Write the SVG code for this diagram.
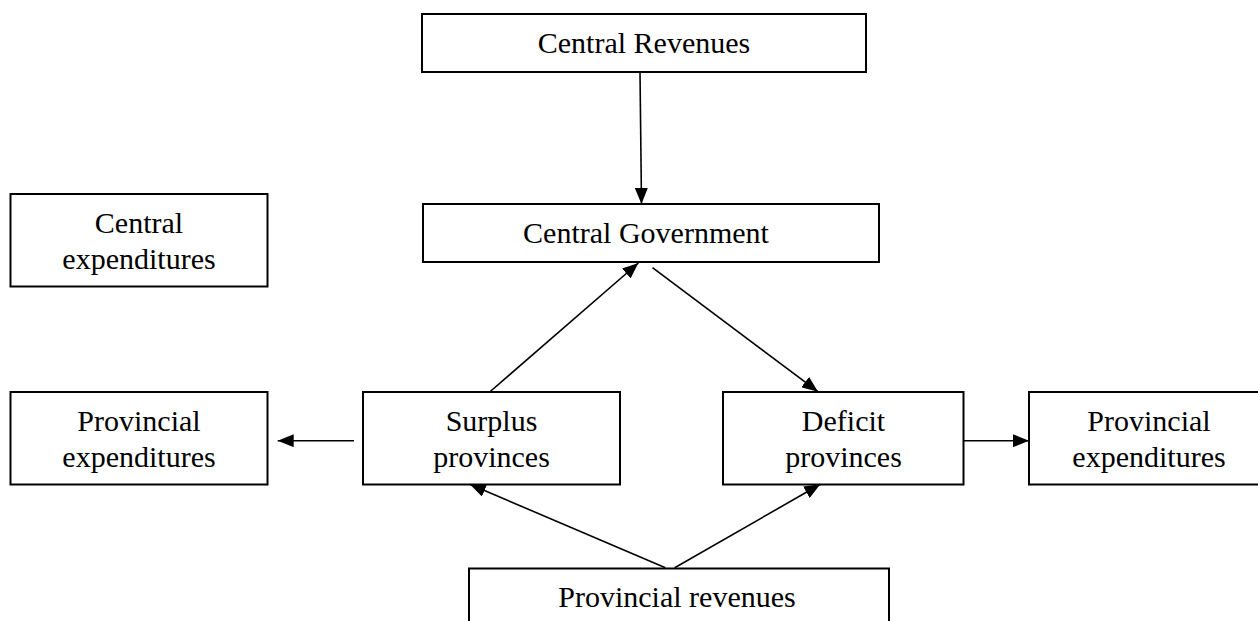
<svg xmlns="http://www.w3.org/2000/svg" width="1258" height="621" viewBox="0 0 1258 621">
<style>
.box{fill:#fff;stroke:#000;stroke-width:2}
.lbl{font-family:"Liberation Serif","Times New Roman",serif;font-size:30px;fill:#000;text-anchor:middle}
.con{stroke:#000;stroke-width:1.6;fill:none;marker-end:url(#ah)}
</style>
<defs>
<marker id="ah" markerUnits="userSpaceOnUse" markerWidth="17" markerHeight="13" refX="16" refY="6.5" orient="auto">
<path d="M0,0 L16,6.5 L0,13 z" fill="#000"/>
</marker>
</defs>
<rect width="1258" height="621" fill="#fff"/>
<g id="central-revenues">
<rect class="box" x="422" y="14" width="444" height="58"/>
<text class="lbl" x="644" y="52.5">Central Revenues</text>
</g>
<g id="central-expenditures">
<rect class="box" x="10.5" y="194" width="257" height="92.5"/>
<text class="lbl" x="139" y="233">Central</text>
<text class="lbl" x="139" y="269">expenditures</text>
</g>
<g id="central-government">
<rect class="box" x="423" y="204" width="456" height="58"/>
<text class="lbl" x="646" y="242.5">Central Government</text>
</g>
<g id="provincial-expenditures-left">
<rect class="box" x="10.5" y="392" width="257" height="92.5"/>
<text class="lbl" x="139" y="431">Provincial</text>
<text class="lbl" x="139" y="467">expenditures</text>
</g>
<g id="surplus-provinces">
<rect class="box" x="363" y="392" width="257" height="92.5"/>
<text class="lbl" x="491.5" y="431">Surplus</text>
<text class="lbl" x="491.5" y="467">provinces</text>
</g>
<g id="deficit-provinces">
<rect class="box" x="723" y="392" width="240.5" height="92.5"/>
<text class="lbl" x="843.5" y="431">Deficit</text>
<text class="lbl" x="843.5" y="467">provinces</text>
</g>
<g id="provincial-expenditures-right">
<rect class="box" x="1029" y="392" width="240" height="92.5"/>
<text class="lbl" x="1149" y="431">Provincial</text>
<text class="lbl" x="1149" y="467">expenditures</text>
</g>
<g id="provincial-revenues">
<rect class="box" x="469" y="568.5" width="420" height="80"/>
<text class="lbl" x="677" y="607">Provincial revenues</text>
</g>
<g id="connectors">
<line class="con" x1="640" y1="72" x2="641.5" y2="204"/>
<line class="con" x1="489.7" y1="392" x2="638.4" y2="263"/>
<line class="con" x1="652.5" y1="267.7" x2="818" y2="391.7"/>
<line class="con" x1="354" y1="440.7" x2="277.7" y2="440.7"/>
<line class="con" x1="963.5" y1="440.7" x2="1029" y2="440.7"/>
<line class="con" x1="665.4" y1="567.7" x2="469.8" y2="484.3"/>
<line class="con" x1="674.7" y1="567.7" x2="820.3" y2="484.3"/>
</g>
</svg>
